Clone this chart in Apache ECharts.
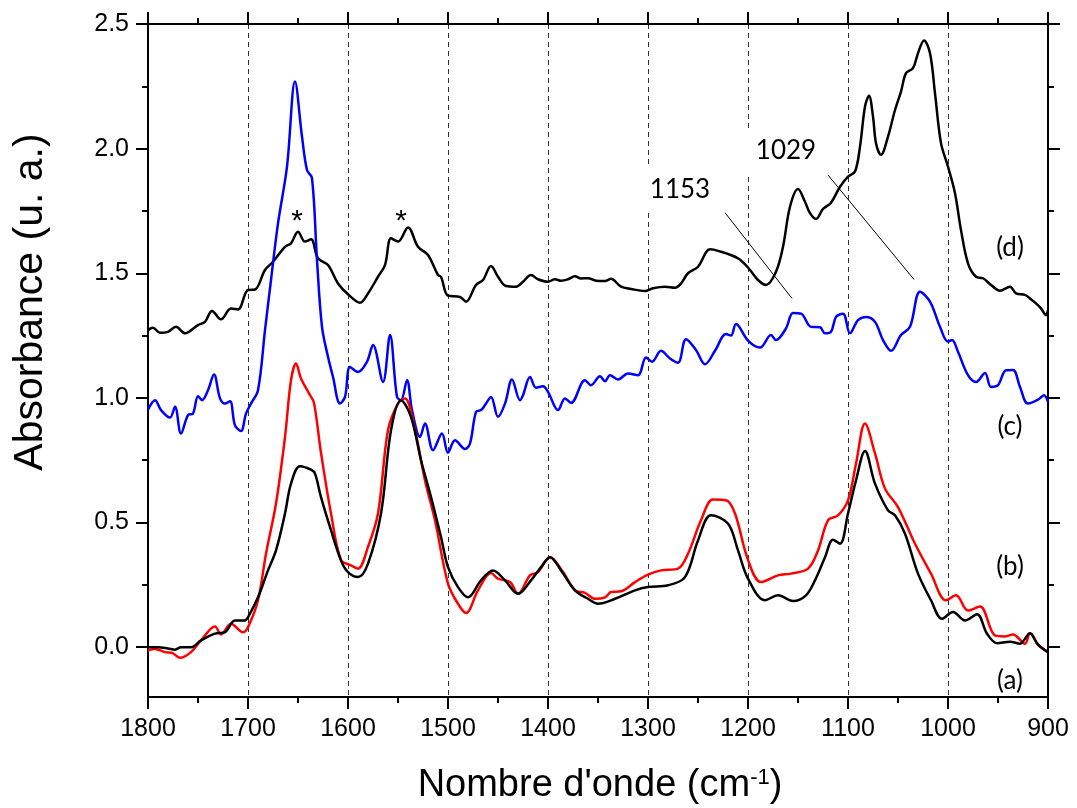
<!DOCTYPE html>
<html>
<head>
<meta charset="utf-8">
<script src="https://cdn.jsdelivr.net/npm/echarts@6/dist/echarts.min.js"></script>
<style>
  html, body { margin: 0; padding: 0; background: #fff; }
  #main { width: 1077px; height: 808px; }
</style>
</head>
<body>
<div id="main"></div>
<script>
// spectre (d) - noir du haut
var specD = [[1800,1.272],[1795,1.281],[1788,1.261],[1780,1.265],[1772,1.285],[1763,1.259],[1750,1.292],[1743,1.305],[1736,1.349],[1727,1.315],[1717,1.359],[1710,1.355],[1700,1.433],[1693,1.435],[1683,1.513],[1675,1.546],[1663,1.606],[1657,1.620],[1650,1.667],[1643,1.627],[1637,1.636],[1630,1.560],[1620,1.533],[1610,1.459],[1600,1.416],[1588,1.382],[1580,1.419],[1570,1.486],[1563,1.533],[1557,1.640],[1550,1.627],[1540,1.684],[1530,1.606],[1520,1.573],[1510,1.493],[1507,1.486],[1500,1.41],[1488,1.405],[1482,1.386],[1472,1.453],[1465,1.473],[1457,1.529],[1450,1.486],[1442,1.449],[1432,1.446],[1425,1.466],[1417,1.493],[1410,1.476],[1400,1.466],[1393,1.476],[1387,1.47],[1380,1.476],[1373,1.488],[1367,1.479],[1360,1.48],[1352,1.47],[1343,1.469],[1337,1.478],[1327,1.446],[1317,1.437],[1303,1.429],[1295,1.44],[1283,1.446],[1273,1.442],[1267,1.459],[1260,1.5],[1250,1.526],[1238,1.596],[1230,1.59],[1210,1.560],[1200,1.523],[1190,1.473],[1182,1.453],[1172,1.506],[1165,1.606],[1158,1.767],[1150,1.838],[1143,1.787],[1138,1.741],[1132,1.718],[1125,1.758],[1117,1.783],[1108,1.847],[1100,1.888],[1093,1.908],[1088,2.008],[1083,2.169],[1079,2.212],[1075,2.129],[1072,2.022],[1067,1.975],[1060,2.048],[1053,2.155],[1047,2.229],[1042,2.303],[1035,2.323],[1030,2.383],[1024,2.434],[1018,2.383],[1013,2.222],[1007,2.022],[1000,1.928],[993,1.821],[987,1.673],[980,1.540],[972,1.486],[965,1.48],[957,1.453],[948,1.43],[938,1.446],[932,1.419],[923,1.413],[918,1.399],[912,1.379],[907,1.359],[902,1.332],[900,1.352]];

// spectre (c) - bleu
var specC = [[1800,0.953],[1793,0.991],[1787,0.951],[1778,0.921],[1773,0.964],[1767,0.857],[1760,0.931],[1755,0.937],[1750,1.007],[1746,0.991],[1740,1.031],[1734,1.094],[1728,0.998],[1723,0.977],[1718,0.987],[1713,0.890],[1707,0.867],[1702,0.937],[1697,0.977],[1690,1.031],[1683,1.272],[1677,1.473],[1670,1.70],[1661,1.928],[1653,2.269],[1646,2.048],[1641,1.914],[1636,1.881],[1631,1.553],[1626,1.285],[1620,1.165],[1615,1.084],[1608,0.977],[1603,1.004],[1598,1.124],[1590,1.104],[1581,1.145],[1575,1.212],[1565,1.064],[1558,1.252],[1551,1.004],[1547,0.991],[1541,1.071],[1536,0.951],[1528,0.843],[1523,0.897],[1515,0.790],[1506,0.857],[1500,0.780],[1493,0.830],[1483,0.795],[1478,0.817],[1472,0.944],[1467,0.951],[1463,0.971],[1457,1.004],[1450,0.924],[1443,0.977],[1436,1.074],[1428,0.991],[1425,1.011],[1418,1.084],[1412,1.041],[1405,1.047],[1400,1.024],[1390,0.951],[1383,0.998],[1377,0.98],[1363,1.071],[1357,1.051],[1348,1.087],[1343,1.067],[1338,1.091],[1330,1.074],[1320,1.098],[1310,1.091],[1302,1.162],[1296,1.145],[1287,1.189],[1278,1.158],[1270,1.141],[1262,1.235],[1252,1.192],[1243,1.135],[1233,1.189],[1222,1.256],[1217,1.25],[1212,1.296],[1200,1.23],[1188,1.202],[1177,1.252],[1172,1.232],[1162,1.279],[1155,1.341],[1147,1.338],[1137,1.285],[1128,1.283],[1123,1.259],[1117,1.265],[1112,1.325],[1105,1.338],[1098,1.259],[1090,1.312],[1082,1.325],[1073,1.305],[1065,1.232],[1057,1.189],[1047,1.252],[1038,1.285],[1028,1.426],[1018,1.386],[1008,1.285],[1000,1.225],[996,1.232],[990,1.185],[980,1.091],[972,1.064],[963,1.1],[957,1.044],[950,1.051],[942,1.111],[935,1.112],[928,1.044],[920,0.977],[910,0.993],[904,1.011],[900,0.984]];

// spectre rouge
var specB = [[1800,-0.013],[1793,-0.007],[1783,-0.02],[1775,-0.025],[1768,-0.043],[1757,-0.02],[1747,0.027],[1733,0.083],[1727,0.051],[1717,0.094],[1705,0.06],[1700,0.08],[1690,0.188],[1682,0.375],[1672,0.576],[1663,0.843],[1657,1.071],[1652,1.138],[1647,1.078],[1638,1.011],[1634,0.98],[1627,0.78],[1617,0.536],[1607,0.35],[1597,0.328],[1590,0.315],[1580,0.402],[1570,0.536],[1560,0.870],[1550,0.977],[1543,0.998],[1533,0.870],[1523,0.669],[1513,0.509],[1500,0.255],[1490,0.174],[1482,0.137],[1470,0.228],[1457,0.297],[1450,0.275],[1438,0.261],[1430,0.214],[1418,0.288],[1410,0.301],[1398,0.361],[1385,0.301],[1373,0.228],[1363,0.218],[1353,0.194],[1343,0.2],[1337,0.221],[1327,0.224],[1313,0.261],[1300,0.291],[1287,0.308],[1270,0.315],[1260,0.375],[1247,0.509],[1235,0.592],[1222,0.589],[1213,0.536],[1200,0.35],[1187,0.261],[1170,0.288],[1157,0.295],[1140,0.315],[1130,0.388],[1120,0.509],[1110,0.529],[1100,0.589],[1092,0.736],[1083,0.897],[1073,0.777],[1063,0.636],[1050,0.562],[1033,0.415],[1017,0.295],[1002,0.188],[992,0.208],[980,0.147],[968,0.163],[953,0.047],[943,0.043],[935,0.051],[923,0.014],[918,0.056],[910,0.01],[900,-0.02]];

// spectre noir du bas
var specA = [[1800,0.0],[1790,0.0],[1780,-0.005],[1773,-0.01],[1767,0.0],[1757,0.0],[1747,0.027],[1733,0.054],[1723,0.06],[1713,0.107],[1703,0.107],[1700,0.12],[1690,0.2],[1680,0.308],[1672,0.388],[1663,0.536],[1657,0.656],[1648,0.726],[1637,0.712],[1633,0.696],[1627,0.602],[1617,0.469],[1607,0.348],[1600,0.301],[1590,0.281],[1580,0.335],[1567,0.536],[1557,0.870],[1547,0.991],[1537,0.924],[1527,0.75],[1517,0.602],[1507,0.442],[1500,0.321],[1490,0.241],[1480,0.2],[1467,0.268],[1455,0.308],[1443,0.268],[1430,0.214],[1417,0.268],[1407,0.321],[1398,0.361],[1387,0.308],[1373,0.228],[1360,0.194],[1350,0.174],[1333,0.194],[1313,0.228],[1300,0.241],[1280,0.248],[1263,0.281],[1250,0.428],[1237,0.529],[1220,0.496],[1210,0.388],[1200,0.275],[1183,0.188],[1170,0.208],[1155,0.185],[1142,0.208],[1133,0.268],[1123,0.361],[1115,0.431],[1108,0.415],[1100,0.536],[1092,0.669],[1083,0.787],[1073,0.656],[1060,0.549],[1053,0.529],[1043,0.455],[1030,0.295],[1017,0.188],[1006,0.114],[995,0.141],[983,0.107],[971,0.132],[961,0.054],[951,0.016],[938,0.022],[928,0.014],[918,0.056],[910,0.01],[900,-0.02]];

var yMajor = [0, 0.5, 1.0, 1.5, 2.0, 2.5];
var yMinor = [0.25, 0.75, 1.25, 1.75, 2.25];
var curveTags = ['(d)', '(c)', '(b)', '(a)'];
var peakTags = ['1153', '1029'];

var FONT = 'Liberation Sans, Arial, sans-serif';
var FONT2 = 'Lato, sans-serif';

var myChart = echarts.init(document.getElementById('main'));

function yAx(pos, ticks, len, labels) {
    return {
        type: 'value', position: pos, min: -0.2, max: 2.5,
        axisLine: { show: true, onZero: false, lineStyle: { color: '#000', width: 2 } },
        axisTick: { show: true, customValues: ticks, length: len, lineStyle: { color: '#000', width: 2 } },
        axisLabel: labels ? {
            show: true, customValues: ticks, margin: 19, color: '#000', fontSize: 25, fontFamily: FONT,
            formatter: function (v) { return v.toFixed(1); }
        } : { show: false },
        splitLine: { show: false }
    };
}

function xAx(pos, labels) {
    return {
        type: 'value', position: pos, min: 900, max: 1800, interval: 100, inverse: true,
        axisLine: { show: true, onZero: false, lineStyle: { color: '#000', width: 2 } },
        axisTick: { show: true, length: 12, lineStyle: { color: '#000', width: 2 } },
        minorTick: { show: true, splitNumber: 2, length: 6, lineStyle: { color: '#000', width: 2 } },
        axisLabel: labels ? {
            show: true, margin: 20, color: '#000', fontSize: 25, fontFamily: FONT,
            formatter: function (v) { return String(v); }
        } : { show: false },
        splitLine: labels ? { show: true, lineStyle: { color: '#333', width: 1, type: [5, 4] } } : { show: false }
    };
}

function spec(name, data, color) {
    return {
        name: name, type: 'line', data: data, xAxisIndex: 0, yAxisIndex: 0,
        showSymbol: false, smooth: 0.35,
        lineStyle: { color: color, width: 2.5 }
    };
}

option = {
    backgroundColor: '#fff',
    animation: false,
    grid: { left: 148, right: 29, top: 24, bottom: 111 },
    xAxis: [xAx('bottom', true), xAx('top', false)],
    yAxis: [
        yAx('left', yMajor, 12, true),
        yAx('left', yMinor, 6, false),
        yAx('right', yMajor, 12, false),
        yAx('right', yMinor, 6, false)
    ],
    series: [
        spec('d', specD, '#000'),
        spec('c', specC, '#0000ff'),
        spec('b', specB, '#ff0000'),
        spec('a', specA, '#000'),
        {
            // traits de repère des bandes 1153 / 1029
            type: 'line', data: [], xAxisIndex: 0, yAxisIndex: 0,
            markLine: {
                silent: true, symbol: 'none', animation: false,
                lineStyle: { color: '#000', width: 1, type: 'solid' },
                label: { show: false },
                data: [
                    [{ coord: [1223, 1.743] }, { coord: [1156, 1.399] }],
                    [{ coord: [1120, 1.894] }, { coord: [1034, 1.475] }]
                ]
            }
        }
    ]
};

myChart.setOption(option);

// textes : titres, étiquettes des courbes, astérisques
function txt(x, y, text, size, family, extra) {
    var st = { text: text, x: x, y: y, fill: '#000', font: size + 'px ' + family, align: 'center', verticalAlign: 'middle' };
    for (var k in extra) st[k] = extra[k];
    return { type: 'text', z: 100, style: st };
}
var g = [];
g.push({
    type: 'text', z: 100, x: 31, y: 302, rotation: Math.PI / 2,
    style: { text: 'Absorbance (u. a.)', fill: '#000', font: '41px ' + FONT, align: 'center', verticalAlign: 'middle' }
});
g.push({
    type: 'text', z: 100, x: 600, y: 786,
    style: {
        text: '{n|Nombre d\'onde (cm}{s|-1}{n|)}', align: 'center', verticalAlign: 'middle',
        rich: {
            n: { fontSize: 38, fontFamily: FONT, color: '#000' },
            s: { fontSize: 22, fontFamily: FONT, color: '#000', verticalAlign: 'top' }
        }
    }
});
var tagY = [248, 427, 567, 681];
for (var i = 0; i < curveTags.length; i++) {
    g.push(txt(1010, tagY[i], curveTags[i], 26, FONT2));
}
g.push(txt(680, 190, peakTags[0], 26, FONT2, { backgroundColor: '#fff', padding: [10, 10, 10, 10] }));
g.push(txt(786, 151, peakTags[1], 26, FONT2, { backgroundColor: '#fff', padding: [10, 10, 10, 10] }));
g.push(txt(297, 222, '*', 30, FONT));
g.push(txt(401, 222, '*', 30, FONT));
myChart.setOption({ graphic: g });
</script>
</body>
</html>
